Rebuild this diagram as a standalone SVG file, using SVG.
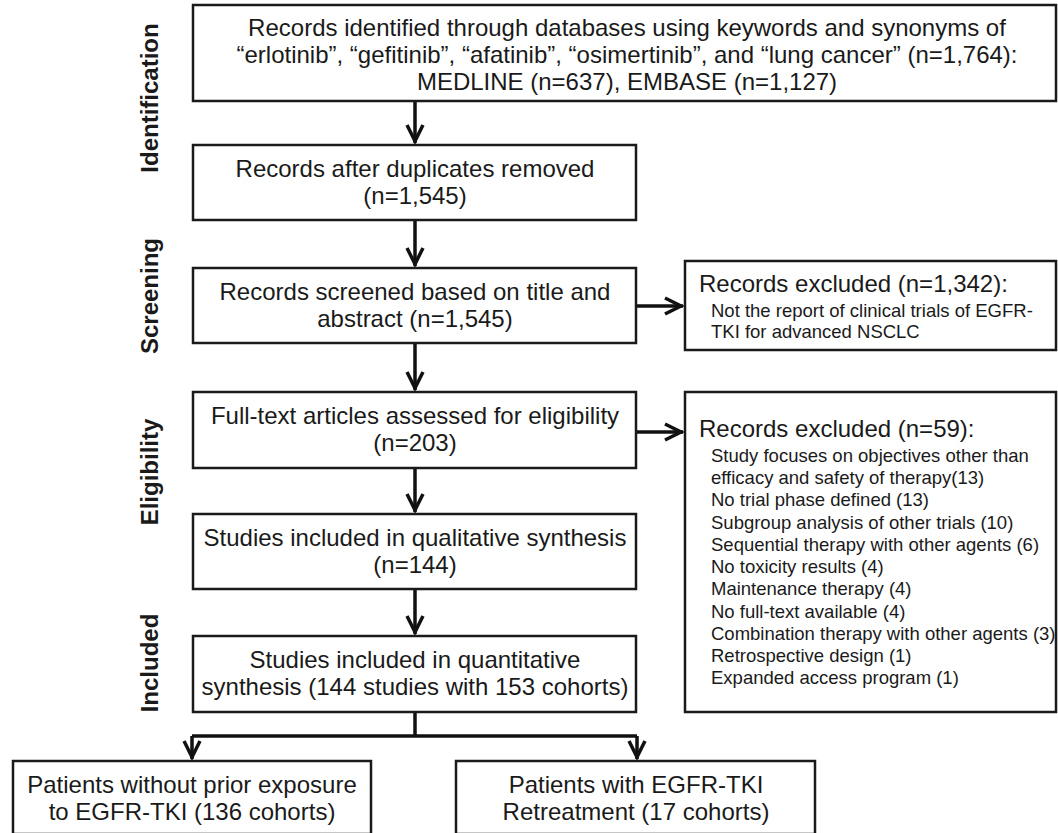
<svg xmlns="http://www.w3.org/2000/svg" width="1058" height="833" viewBox="0 0 1058 833">
<style>
.box{fill:#fff;stroke:#1a1a1a;stroke-width:2.5}
.t{font-family:"Liberation Sans",Arial,sans-serif;font-size:24px;fill:#1a1a1a}
.m{text-anchor:middle}
.s{font-family:"Liberation Sans",Arial,sans-serif;font-size:18.5px;fill:#1a1a1a}
.lab{font-family:"Liberation Sans",Arial,sans-serif;font-size:24px;font-weight:bold;fill:#1a1a1a;text-anchor:middle}
.c{fill:none;stroke:#111;stroke-width:3.5}
</style>
<defs>
<marker id="ah" markerUnits="userSpaceOnUse" markerWidth="26" markerHeight="22" viewBox="0 0 26 22" refX="21" refY="11" orient="auto">
<path d="M3,3 L19,11 L3,19" fill="none" stroke="#111" stroke-width="3.5" stroke-linejoin="miter"/>
</marker>
</defs>
<rect width="1058" height="833" fill="#fff"/>

<g id="labels">
<text class="lab" transform="translate(158,98) rotate(-90)">Identification</text>
<text class="lab" transform="translate(158,296) rotate(-90)">Screening</text>
<text class="lab" transform="translate(158,472) rotate(-90)">Eligibility</text>
<text class="lab" transform="translate(158,663) rotate(-90)">Included</text>
</g>

<g id="connectors">
<line class="c" x1="415" y1="101" x2="415" y2="143" marker-end="url(#ah)"/>
<line class="c" x1="415" y1="220" x2="415" y2="266" marker-end="url(#ah)"/>
<line class="c" x1="415" y1="343" x2="415" y2="390" marker-end="url(#ah)"/>
<line class="c" x1="415" y1="468" x2="415" y2="512" marker-end="url(#ah)"/>
<line class="c" x1="415" y1="589" x2="415" y2="634" marker-end="url(#ah)"/>
<line class="c" x1="636" y1="306" x2="683" y2="306" marker-end="url(#ah)"/>
<line class="c" x1="636" y1="432" x2="683" y2="432" marker-end="url(#ah)"/>
<polyline class="c" points="415,712 415,736"/>
<polyline class="c" points="192,736 637,736"/>
<line class="c" x1="192" y1="736" x2="192" y2="759" marker-end="url(#ah)"/>
<line class="c" x1="637" y1="736" x2="637" y2="759" marker-end="url(#ah)"/>
</g>

<g id="n-identified">
<rect class="box" x="193" y="5" width="863" height="96"/>
<text class="t m" x="627" y="36">Records identified through databases using keywords and synonyms of</text>
<text class="t m" x="627" y="63">“erlotinib”, “gefitinib”, “afatinib”, “osimertinib”, and “lung cancer” (n=1,764):</text>
<text class="t m" x="627" y="90">MEDLINE (n=637), EMBASE (n=1,127)</text>
</g>

<g id="n-duplicates">
<rect class="box" x="193" y="145" width="443" height="75"/>
<text class="t m" x="415" y="177">Records after duplicates removed</text>
<text class="t m" x="415" y="204">(n=1,545)</text>
</g>

<g id="n-screened">
<rect class="box" x="193" y="268" width="443" height="75"/>
<text class="t m" x="415" y="300">Records screened based on title and</text>
<text class="t m" x="415" y="327">abstract (n=1,545)</text>
</g>

<g id="n-excluded1">
<rect class="box" x="685" y="261" width="371" height="89"/>
<text class="t" x="699" y="292">Records excluded (n=1,342):</text>
<text class="s" x="711" y="317">Not the report of clinical trials of EGFR-</text>
<text class="s" x="711" y="338">TKI for advanced NSCLC</text>
</g>

<g id="n-fulltext">
<rect class="box" x="193" y="392" width="443" height="76"/>
<text class="t m" x="415" y="424">Full-text articles assessed for eligibility</text>
<text class="t m" x="415" y="451">(n=203)</text>
</g>

<g id="n-excluded2">
<rect class="box" x="685" y="392" width="371" height="320"/>
<text class="t" x="699" y="437">Records excluded (n=59):</text>
<text class="s" x="711" y="462">Study focuses on objectives other than</text>
<text class="s" x="711" y="484">efficacy and safety of therapy(13)</text>
<text class="s" x="711" y="506">No trial phase defined (13)</text>
<text class="s" x="711" y="528.5">Subgroup analysis of other trials (10)</text>
<text class="s" x="711" y="551">Sequential therapy with other agents (6)</text>
<text class="s" x="711" y="573">No toxicity results (4)</text>
<text class="s" x="711" y="595">Maintenance therapy (4)</text>
<text class="s" x="711" y="617.5">No full-text available (4)</text>
<text class="s" x="711" y="640">Combination therapy with other agents (3)</text>
<text class="s" x="711" y="662">Retrospective design (1)</text>
<text class="s" x="711" y="684">Expanded access program (1)</text>
</g>

<g id="n-qualitative">
<rect class="box" x="193" y="514" width="443" height="75"/>
<text class="t m" x="415" y="546">Studies included in qualitative synthesis</text>
<text class="t m" x="415" y="573">(n=144)</text>
</g>

<g id="n-quantitative">
<rect class="box" x="193" y="636" width="443" height="76"/>
<text class="t m" x="415" y="668">Studies included in quantitative</text>
<text class="t m" x="415" y="695">synthesis (144 studies with 153 cohorts)</text>
</g>

<g id="n-noprior">
<rect class="box" x="13" y="761" width="358" height="73"/>
<text class="t m" x="192" y="793">Patients without prior exposure</text>
<text class="t m" x="192" y="820">to EGFR-TKI (136 cohorts)</text>
</g>

<g id="n-retreat">
<rect class="box" x="456" y="761" width="359" height="73"/>
<text class="t m" x="636" y="793">Patients with EGFR-TKI</text>
<text class="t m" x="636" y="820">Retreatment (17 cohorts)</text>
</g>
</svg>
